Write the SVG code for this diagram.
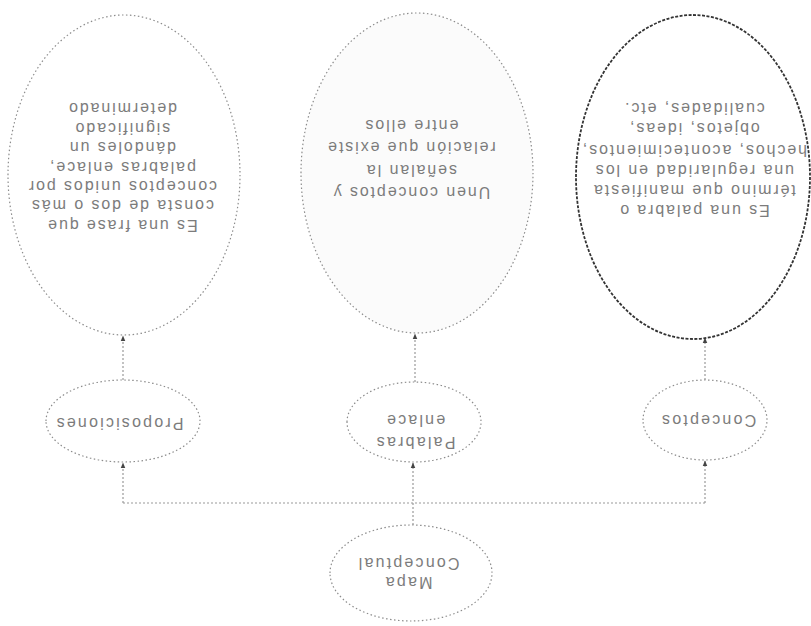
<svg xmlns="http://www.w3.org/2000/svg" width="811" height="626" viewBox="0 0 811 626">
  <defs>
    <marker id="arrow" viewBox="0 0 10 10" refX="9" refY="5" markerWidth="5" markerHeight="5" orient="auto">
      <path d="M0 1 L10 5 L0 9 Z" fill="#444"/>
    </marker>
    <style>
      .node { fill: #ffffff; stroke: #8c8c8c; stroke-width: 1.2; stroke-dasharray: 1.5 2.5; }
      .node.dark { stroke: #333333; stroke-width: 1.8; stroke-dasharray: 3 1.5; }
      .node.soft { fill: #fbfbfb; }
      .edge { fill: none; stroke: #9a9a9a; stroke-width: 1.2; stroke-dasharray: 2 2; }
      .lbl { font-family: "Liberation Sans", Arial, sans-serif; font-size: 16px; fill: #7c7c7c; text-anchor: middle; letter-spacing: 2.2px; }
      .big { font-size: 16px; letter-spacing: 1.9px; }
    </style>
  </defs>
  <rect width="811" height="626" fill="#ffffff"/>

  <!-- the whole map is printed turned half a revolution -->
  <g transform="rotate(180 405.5 313)">

    <g id="connectors">
      <path class="edge" d="M106 123 H688"/>
      <path class="edge" d="M398 101 V163" marker-end="url(#arrow)"/>
      <path class="edge" d="M106 123 V165" marker-end="url(#arrow)"/>
      <path class="edge" d="M688 123 V163" marker-end="url(#arrow)"/>
      <path class="edge" d="M106 246 V288" marker-end="url(#arrow)"/>
      <path class="edge" d="M396 244 V292" marker-end="url(#arrow)"/>
      <path class="edge" d="M688 246 V290" marker-end="url(#arrow)"/>
    </g>

    <g id="mapa">
      <ellipse class="node" cx="400" cy="53" rx="81" ry="48"/>
      <text class="lbl" x="403" y="49">Mapa</text>
      <text class="lbl" x="403" y="68">Conceptual</text>
    </g>

    <g id="conceptos">
      <ellipse class="node" cx="106" cy="206" rx="62" ry="40"/>
      <text class="lbl" x="103" y="211">Conceptos</text>
    </g>

    <g id="palabras-enlace">
      <ellipse class="node" cx="397" cy="204" rx="67" ry="40"/>
      <text class="lbl" x="396" y="189">Palabras</text>
      <text class="lbl" x="396" y="211">enlace</text>
    </g>

    <g id="proposiciones">
      <ellipse class="node" cx="688" cy="205" rx="77" ry="41"/>
      <text class="lbl" x="692" y="208">Proposiciones</text>
    </g>

    <g id="def-conceptos">
      <ellipse class="node dark" cx="118" cy="449" rx="117" ry="162"/>
      <text class="lbl big" x="117" y="421">Es una palabra o</text>
      <text class="lbl big" x="117" y="441">término que manifiesta</text>
      <text class="lbl big" x="117" y="461">una regularidad en los</text>
      <text class="lbl big" x="117" y="481">hechos, acontecimientos,</text>
      <text class="lbl big" x="117" y="503">objetos, ideas,</text>
      <text class="lbl big" x="117" y="523">cualidades, etc.</text>
    </g>

    <g id="def-palabras-enlace">
      <ellipse class="node soft" cx="394" cy="453" rx="116" ry="160"/>
      <text class="lbl big" x="400" y="439">Unen conceptos y</text>
      <text class="lbl big" x="400" y="461">señalan la</text>
      <text class="lbl big" x="400" y="484">relación que existe</text>
      <text class="lbl big" x="400" y="506">entre ellos</text>
    </g>

    <g id="def-proposiciones">
      <ellipse class="node" cx="687" cy="451" rx="116" ry="160"/>
      <text class="lbl big" x="689" y="406">Es una frase que</text>
      <text class="lbl big" x="689" y="426">consta de dos o más</text>
      <text class="lbl big" x="689" y="445">conceptos unidos por</text>
      <text class="lbl big" x="689" y="464">palabras enlace,</text>
      <text class="lbl big" x="689" y="484">dándoles un</text>
      <text class="lbl big" x="689" y="503">significado</text>
      <text class="lbl big" x="689" y="523">determinado</text>
    </g>
  </g>
</svg>
